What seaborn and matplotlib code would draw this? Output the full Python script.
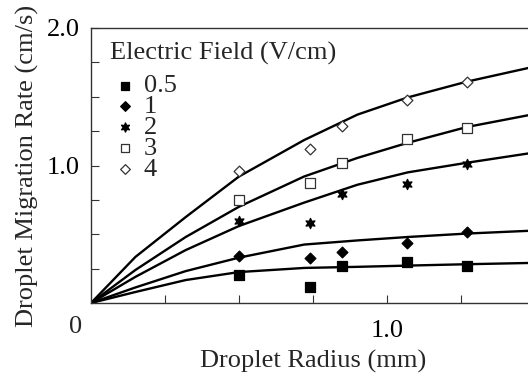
import numpy as np
import pandas as pd
import matplotlib
matplotlib.use("Agg")
import matplotlib.pyplot as plt
import seaborn as sns

# ---- data ----
fields = ["0.5", "1", "2", "3", "4"]
radius = [0.5, 0.74, 0.848, 1.068, 1.27]
rate_05 = [0.204, 0.116, 0.27, 0.30, 0.27]
rate_1 = [0.34, 0.327, 0.37, 0.44, 0.52]
rate_2 = [0.60, 0.58, 0.79, 0.865, 1.01]
rate_3 = [0.75, 0.87, 1.02, 1.19, 1.27]
rate_4 = [0.96, 1.12, 1.29, 1.48, 1.61]

fit_x = [0.0, 0.15, 0.32, 0.5, 0.72, 0.9, 1.07, 1.27, 1.5]
fit_05 = [0.0, 0.08, 0.167, 0.225, 0.255, 0.263, 0.272, 0.282, 0.292]
fit_1 = [0.0, 0.113, 0.232, 0.33, 0.425, 0.455, 0.48, 0.505, 0.527]
fit_2 = [0.0, 0.19, 0.385, 0.56, 0.73, 0.86, 0.95, 1.02, 1.095]
fit_3 = [0.0, 0.24, 0.48, 0.70, 0.92, 1.055, 1.165, 1.28, 1.375]
fit_4 = [0.0, 0.335, 0.625, 0.92, 1.185, 1.37, 1.495, 1.61, 1.72]

x_ticks_major = [1.0]
x_tick_labels = ["1.0"]
y_ticks_major = [1.0, 2.0]
y_tick_labels = ["1.0", "2.0"]
legend_title = "Electric Field (V/cm)"

rates = [rate_05, rate_1, rate_2, rate_3, rate_4]
fits = [fit_05, fit_1, fit_2, fit_3, fit_4]

sns.set_style("ticks")
plt.rcParams["font.family"] = ["Liberation Serif", "DejaVu Serif"]

W, H = 528, 377
AX_L, AX_R, AX_T, AX_B = 91, 535, 28, 303
fig = plt.figure(figsize=(W / 100, H / 100), dpi=100)
ax = fig.add_axes([AX_L / W, (H - AX_B) / H, (AX_R - AX_L) / W, (AX_B - AX_T) / H])


def axfrac(px, py):
    return ((px - AX_L) / (AX_R - AX_L), (AX_B - py) / (AX_B - AX_T))


styles = [
    dict(marker="s", s=48, facecolor="black", edgecolor="black"),
    dict(marker="D", s=30, facecolor="black", edgecolor="black"),
    dict(marker=(6, 1, 0), s=55, facecolor="black", edgecolor="black"),
    dict(marker="s", s=48, facecolor="white", edgecolor="#333333"),
    dict(marker="D", s=30, facecolor="white", edgecolor="#333333"),
]

for f, yv, fy, st in zip(fields, rates, fits, styles):
    sns.lineplot(x=fit_x, y=fy, color="black", linewidth=1.7, sort=False,
                 legend=False, ax=ax, zorder=2)
    sns.scatterplot(x=radius, y=yv, marker=st["marker"], s=st["s"],
                    facecolor=st["facecolor"], edgecolor=st["edgecolor"],
                    linewidth=0.9, label=f, ax=ax, zorder=3)

ax.set_xlim(0, 1.5)
ax.set_ylim(0, 2.0)

ax.set_xticks(x_ticks_major)
ax.set_xticklabels(x_tick_labels)
ax.set_xticks(np.arange(0.25, 1.5, 0.25), minor=True)
ax.set_yticks(y_ticks_major)
ax.set_yticklabels(y_tick_labels)
ax.set_yticks(np.arange(0.25, 2.0, 0.25), minor=True)

ax.tick_params(axis="both", which="both", direction="in", length=6,
               width=0.8, colors="#333333", labelcolor="black", labelsize=19)
ax.tick_params(axis="x", which="both", pad=12)
ax.tick_params(axis="y", which="both", pad=8)
for sp in ax.spines.values():
    sp.set_linewidth(1.0)
    sp.set_color("#333333")

ax.annotate("0", xy=(0, 0), xycoords="data", xytext=(-15, -24),
            textcoords="offset pixels", ha="center", va="center", fontsize=19)

ax.set_xlabel("Droplet Radius (mm)", fontsize=19, labelpad=6)
ax.set_ylabel("Droplet Migration Rate (cm/s)", fontsize=19, labelpad=6)

tx, ty = axfrac(110, 60)
ax.text(tx, ty, legend_title, transform=ax.transAxes, ha="left",
        va="baseline", fontsize=19)

lx, ly = axfrac(112, 74)
leg = ax.legend(loc="upper left", bbox_to_anchor=(lx, ly), frameon=False,
                fontsize=19, labelspacing=-0.1, handletextpad=0.2,
                handlelength=1.0, borderaxespad=0.0, borderpad=0.0,
                markerscale=0.9)

fig.savefig("out.png", dpi=100)
